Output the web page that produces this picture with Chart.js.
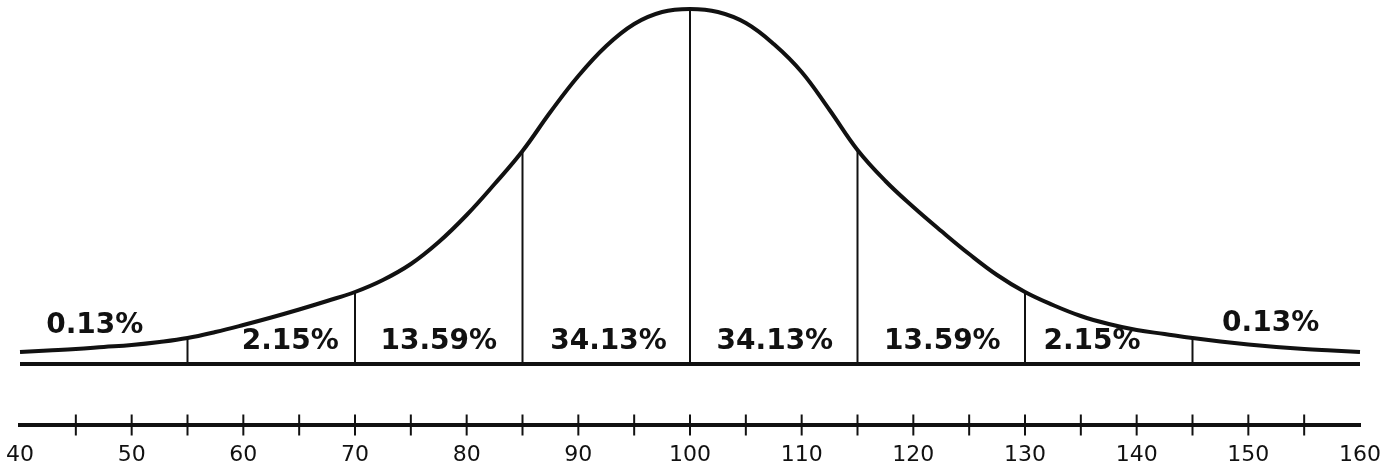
<!DOCTYPE html>
<html lang="en">
<head>
    <meta charset="UTF-8">
    <title>Normal distribution</title>
    <script src="https://cdn.jsdelivr.net/npm/chart.js"></script>
    <style>
        html, body {
            margin: 0;
            background: #fff;
            overflow: hidden;
        }

        .chart-box {
            position: relative;
            width: 1387px;
            height: 475px;
        }
    </style>
</head>
<body>
    <div class="chart-box">
        <canvas id="bellChart"></canvas>
    </div>

    <script>
        // curve height (px above the base line)
        const curveX = [40, 42.5, 45, 47.5, 50, 52.5, 55, 57.5, 60, 62.5, 65, 67.5, 70, 72.5, 75, 77.5, 80, 82.5, 85, 87.5, 90, 92.5, 95, 97.5,
            100, 102.5, 105, 107.5, 110, 112.5, 115, 117.5, 120, 122.5, 125, 127.5, 130, 132.5, 135, 137.5, 140, 142.5, 145, 147.5, 150, 152.5, 155, 157.5, 160];
        const curveY = [12, 13.5, 15, 17, 19, 22, 26, 32, 39, 46.5, 54.5, 63, 72, 84, 100, 122, 149, 180, 213, 252, 288, 318, 340, 352,
            355, 352, 341, 320, 292, 254, 214, 183, 157, 133, 110, 89, 72, 59, 48, 40, 34, 30, 26, 22.5, 19.5, 17, 15, 13.5, 12];

        const sigmaX = [55, 70, 85, 100, 115, 130, 145];
        const shareLabels = ['0.13%', '2.15%', '13.59%', '34.13%', '34.13%', '13.59%', '2.15%', '0.13%'];
        const shareX = [46.7, 64.2, 77.5, 92.7, 107.6, 122.6, 136, 152];
        const shareY = [38.5, 22, 22, 22, 22, 22, 22, 40];

        const tickLabels = [40, 50, 60, 70, 80, 90, 100, 110, 120, 130, 140, 150, 160];
        const tickMarks = [45, 50, 55, 60, 65, 70, 75, 80, 85, 90, 95, 100, 105, 110, 115, 120, 125, 130, 135, 140, 145, 150, 155];

        const INK = '#111';
        const AXIS_Y = -61;
        const TICK_HALF = 10.5;

        const dividerSets = sigmaX.map(x => ({
            data: [{ x: x, y: 0 }, { x: x, y: curveY[curveX.indexOf(x)] }],
            borderColor: INK,
            borderWidth: 2,
            pointRadius: 0
        }));

        // small tick marks crossing the lower number line
        const tickSets = tickMarks.map(x => ({
            data: [{ x: x, y: AXIS_Y - TICK_HALF }, { x: x, y: AXIS_Y + TICK_HALF }],
            borderColor: INK,
            borderWidth: 2,
            pointRadius: 0,
            clip: false
        }));

        // percentage text inside each band
        const shareText = {
            id: 'shareText',
            afterDatasetsDraw(chart) {
                const { ctx, scales } = chart;
                ctx.save();
                ctx.font = 'bold 28px "DejaVu Sans"';
                ctx.fillStyle = INK;
                ctx.textAlign = 'center';
                ctx.textBaseline = 'middle';
                shareLabels.forEach((t, i) => {
                    ctx.fillText(t, scales.x.getPixelForValue(shareX[i]), scales.y.getPixelForValue(shareY[i]));
                });
                ctx.restore();
            }
        };

        new Chart(document.getElementById('bellChart'), {
            type: 'line',
            data: {
                datasets: [
                    {
                        data: curveX.map((x, i) => ({ x: x, y: curveY[i] })),
                        borderColor: INK,
                        borderWidth: 4,
                        pointRadius: 0,
                        tension: 0.4,
                        clip: false
                    },
                    {
                        data: [{ x: 40, y: 0 }, { x: 160, y: 0 }],
                        borderColor: INK,
                        borderWidth: 4,
                        pointRadius: 0
                    },
                    ...dividerSets,
                    ...tickSets
                ]
            },
            options: {
                responsive: true,
                maintainAspectRatio: false,
                animation: false,
                layout: {
                    autoPadding: false,
                    padding: { left: 20, right: 27, top: 0, bottom: 6.6 }
                },
                plugins: {
                    legend: { display: false },
                    tooltip: { enabled: false }
                },
                scales: {
                    x: {
                        type: 'linear',
                        min: 40,
                        max: 160,
                        afterBuildTicks: s => { s.ticks = tickLabels.map(v => ({ value: v })); },
                        // invisible tick marks only used as spacing above the labels
                        grid: { display: true, drawOnChartArea: false, drawTicks: true, tickLength: 17, color: 'rgba(0,0,0,0)' },
                        border: { display: true, width: 4, color: INK },
                        ticks: {
                            color: INK,
                            padding: 0,
                            autoSkip: false,
                            maxRotation: 0,
                            font: { family: 'DejaVu Sans', size: 22 }
                        }
                    },
                    y: {
                        display: false,
                        min: AXIS_Y,
                        max: 364
                    }
                }
            },
            plugins: [shareText]
        });
    </script>
</body>
</html>
